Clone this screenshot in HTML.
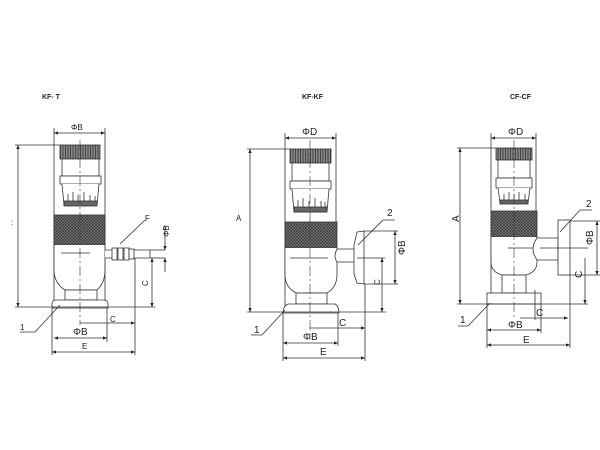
<!DOCTYPE html>
<html><head><meta charset="utf-8"><style>
html,body{margin:0;padding:0;background:#fff;}
svg{display:block}
text{font-family:"Liberation Sans",sans-serif;fill:#222}
</style></head><body>
<svg width="600" height="450" viewBox="0 0 600 450" xmlns="http://www.w3.org/2000/svg">
<defs>
<pattern id="kn" width="3" height="3" patternUnits="userSpaceOnUse">
<rect width="3" height="3" fill="#777"/><path d="M0 0L3 3M3 0L0 3" stroke="#333" stroke-width="0.6"/>
</pattern>
<pattern id="cap" width="2.5" height="10" patternUnits="userSpaceOnUse">
<rect width="2.5" height="10" fill="#888"/><rect width="1" height="10" fill="#444"/>
</pattern>
<marker id="a" viewBox="0 0 6 6" refX="6" refY="3" markerWidth="5" markerHeight="5" orient="auto-start-reverse"><path d="M0 0.5L6 3L0 5.5z" fill="#222"/></marker>
</defs>
<g stroke="#333" stroke-width="0.8" fill="none">

<!-- ===== KF-T ===== -->
<g>
<line x1="54" y1="128" x2="54" y2="300"/><line x1="105" y1="128" x2="105" y2="300"/>
<line x1="54" y1="133" x2="105" y2="133" marker-start="url(#a)" marker-end="url(#a)"/>
<rect x="60" y="145" width="40" height="14" fill="url(#cap)"/>
<line x1="15" y1="145" x2="60" y2="145"/>
<rect x="62" y="159" width="37" height="17" fill="#fff"/>
<rect x="60" y="176" width="41" height="8" fill="#fff"/>
<path d="M62 184L64 205H97L99 184" fill="#fff"/>
<rect x="64" y="201" width="33" height="5" fill="#666"/>
<path d="M68 201v-7M73 201v-9M78 201v-6M84 201v-9M90 201v-6M95 201v-5"/>
<rect x="54" y="215" width="51" height="30" fill="url(#kn)"/>
<path d="M54 245V270Q54 283 65 290H97Q105 283 105 270V245" fill="#fff"/>
<rect x="65" y="290" width="32" height="10" fill="#fff"/>
<path d="M56 300H104Q108 300 108 304V308H52V304Q52 300 56 300Z" fill="#fff"/>
<line x1="80" y1="140" x2="80" y2="325" stroke-dasharray="10 3 2 3" stroke-width="0.6"/>
<line x1="61" y1="253" x2="90" y2="253"/>
<path d="M105 250H150V258H105" fill="#fff"/>
<rect x="112" y="248" width="5" height="12" fill="#fff"/><rect x="118" y="248" width="5" height="12" fill="#fff"/><rect x="124" y="248" width="5" height="12" fill="#fff"/><rect x="129" y="249" width="5" height="10" fill="#fff"/>
<line x1="150" y1="250" x2="165" y2="250"/><line x1="150" y1="258" x2="165" y2="258"/>
<line x1="165" y1="225" x2="165" y2="250" marker-end="url(#a)"/><line x1="165" y1="258" x2="165" y2="272" marker-start="url(#a)"/>
<line x1="18" y1="145" x2="18" y2="307" marker-start="url(#a)" marker-end="url(#a)"/>
<line x1="15" y1="307" x2="155" y2="307"/>
<line x1="152" y1="258" x2="152" y2="307" marker-start="url(#a)" marker-end="url(#a)"/>
<line x1="135" y1="258" x2="135" y2="355"/><line x1="52" y1="308" x2="52" y2="355"/><line x1="107" y1="308" x2="107" y2="342"/>
<line x1="80" y1="323" x2="135" y2="323" marker-end="url(#a)"/>
<line x1="54" y1="338" x2="107" y2="338" marker-start="url(#a)" marker-end="url(#a)"/>
<line x1="52" y1="352" x2="135" y2="352" marker-start="url(#a)" marker-end="url(#a)"/>
<path d="M20 332H35L60 305"/>
<path d="M120 244L145 220"/>
</g>

<!-- ===== KF-KF ===== -->
<g>
<line x1="285" y1="133" x2="285" y2="306"/><line x1="336" y1="133" x2="336" y2="250"/>
<line x1="285" y1="138" x2="336" y2="138" marker-start="url(#a)" marker-end="url(#a)"/>
<rect x="290" y="149" width="41" height="14" fill="url(#cap)"/>
<line x1="247" y1="149" x2="290" y2="149"/>
<rect x="292" y="163" width="37" height="18" fill="#fff"/>
<rect x="290" y="181" width="41" height="8" fill="#fff"/>
<path d="M292 189L294 212H327L329 189" fill="#fff"/>
<rect x="294" y="207" width="33" height="5" fill="#666"/>
<path d="M298 207v-7M303 207v-9M309 207v-6M315 207v-9M321 207v-6M325 207v-5"/>
<rect x="285" y="222" width="52" height="26" fill="url(#kn)"/>
<path d="M285 248V275Q285 287 296 293H327Q337 287 337 275V248" fill="#fff"/>
<rect x="296" y="293" width="31" height="11" fill="#fff"/>
<path d="M288 304H335Q339 306 339 313H283Q283 306 288 304Z" fill="#fff"/>
<line x1="310" y1="140" x2="310" y2="340" stroke-dasharray="10 3 2 3" stroke-width="0.6"/>
<line x1="290" y1="258" x2="328" y2="258"/>
<path d="M337 249H357V262H337Q333 256 337 249Z" fill="#fff"/>
<path d="M357 232L364 231V284L357 283L354 274V245Z" fill="#fff"/>
<line x1="364" y1="231" x2="398" y2="231"/><line x1="364" y1="284" x2="398" y2="284"/>
<line x1="395" y1="231" x2="395" y2="284" marker-start="url(#a)" marker-end="url(#a)"/>
<line x1="357" y1="258" x2="385" y2="258"/>
<line x1="382" y1="258" x2="382" y2="312" marker-start="url(#a)" marker-end="url(#a)"/>
<line x1="250" y1="149" x2="250" y2="312" marker-start="url(#a)" marker-end="url(#a)"/>
<line x1="247" y1="312" x2="386" y2="312"/>
<line x1="365" y1="284" x2="365" y2="361"/><line x1="283" y1="313" x2="283" y2="361"/><line x1="338" y1="313" x2="338" y2="346"/>
<line x1="310" y1="328" x2="365" y2="328" marker-end="url(#a)"/>
<line x1="283" y1="343" x2="338" y2="343" marker-start="url(#a)" marker-end="url(#a)"/>
<line x1="283" y1="358" x2="365" y2="358" marker-start="url(#a)" marker-end="url(#a)"/>
<path d="M251 335H262L285 310"/>
<path d="M358 245L383 220H395"/>
</g>

<!-- ===== CF-CF ===== -->
<g>
<line x1="491" y1="133" x2="491" y2="293"/><line x1="536" y1="133" x2="536" y2="238"/>
<line x1="491" y1="138" x2="536" y2="138" marker-start="url(#a)" marker-end="url(#a)"/>
<rect x="496" y="148" width="36" height="12" fill="url(#cap)"/>
<line x1="457" y1="148" x2="496" y2="148"/>
<rect x="498" y="160" width="32" height="18" fill="#fff"/>
<rect x="496" y="178" width="36" height="10" fill="#fff"/>
<path d="M498 188L500 203H528L530 188" fill="#fff"/>
<rect x="500" y="200" width="28" height="4" fill="#666"/>
<path d="M504 200v-6M509 200v-8M514 200v-6M519 200v-8M525 200v-6"/>
<rect x="491" y="211" width="46" height="26" fill="url(#kn)"/>
<path d="M491 237V262Q491 272 502 275H526Q537 272 537 262V237" fill="#fff"/>
<rect x="502" y="275" width="24" height="18" fill="#fff"/>
<rect x="487" y="293" width="54" height="11" fill="#fff"/>
<line x1="514" y1="140" x2="514" y2="318" stroke-dasharray="10 3 2 3" stroke-width="0.6"/>
<line x1="508" y1="248" x2="545" y2="248"/>
<path d="M537 238H558V260H537Q529 249 537 238Z" fill="#fff"/>
<rect x="558" y="220" width="12" height="55" fill="#fff"/>
<line x1="570" y1="221" x2="600" y2="221"/><line x1="570" y1="275" x2="600" y2="275"/>
<line x1="597" y1="221" x2="597" y2="275" marker-start="url(#a)" marker-end="url(#a)"/>
<line x1="540" y1="248" x2="588" y2="248"/>
<line x1="585" y1="258" x2="585" y2="304" marker-end="url(#a)"/>
<line x1="460" y1="148" x2="460" y2="304" marker-start="url(#a)" marker-end="url(#a)"/>
<line x1="457" y1="304" x2="588" y2="304"/>
<line x1="570" y1="275" x2="570" y2="348"/><line x1="487" y1="304" x2="487" y2="348"/><line x1="541" y1="304" x2="541" y2="333"/>
<line x1="535" y1="290" x2="535" y2="320"/>
<line x1="520" y1="318" x2="568" y2="318" marker-end="url(#a)"/>
<line x1="487" y1="330" x2="541" y2="330" marker-start="url(#a)" marker-end="url(#a)"/>
<line x1="487" y1="345" x2="570" y2="345" marker-start="url(#a)" marker-end="url(#a)"/>
<path d="M458 326H468L490 303"/>
<path d="M560 232L580 210H592"/>
</g>
</g>

<g font-size="8">
<text x="42" y="99" font-size="7" font-weight="bold">KF- T</text>
<text x="71" y="130">ΦB</text>
<text x="145" y="221">F</text>
<text x="172" y="240" transform="rotate(-90 169 240)">ΦB</text>
<text x="11" y="225">:</text>
<text x="148" y="290" transform="rotate(-90 146 288)">C</text>
<text x="110" y="322">C</text>
<text x="73" y="335" font-size="10">ΦB</text>
<text x="82" y="349">E</text>
<text x="20" y="330">1</text>

<text x="302" y="99" font-size="7" font-weight="bold">KF-KF</text>
<text x="302" y="135" font-size="10">ΦD</text>
<text x="236" y="221">A</text>
<text x="387" y="216" font-size="10">2</text>
<text x="404" y="262" font-size="10" transform="rotate(-90 401 258)">ΦB</text>
<text x="380" y="291" transform="rotate(-90 377 288)">C</text>
<text x="339" y="326" font-size="10">C</text>
<text x="303" y="340" font-size="10">ΦB</text>
<text x="320" y="355" font-size="10">E</text>
<text x="254" y="333" font-size="10">1</text>

<text x="510" y="99" font-size="7" font-weight="bold">CF-CF</text>
<text x="508" y="135" font-size="10">ΦD</text>
<text x="459" y="228" font-size="10" transform="rotate(-90 456 225)">A</text>
<text x="586" y="207" font-size="10">2</text>
<text x="592" y="252" font-size="10" transform="rotate(-90 589 248)">ΦB</text>
<text x="582" y="284" font-size="10" transform="rotate(-90 579 281)">C</text>
<text x="536" y="316" font-size="10">C</text>
<text x="508" y="328" font-size="10">ΦB</text>
<text x="523" y="343" font-size="10">E</text>
<text x="460" y="323" font-size="10">1</text>
</g>
</svg>
</body></html>
